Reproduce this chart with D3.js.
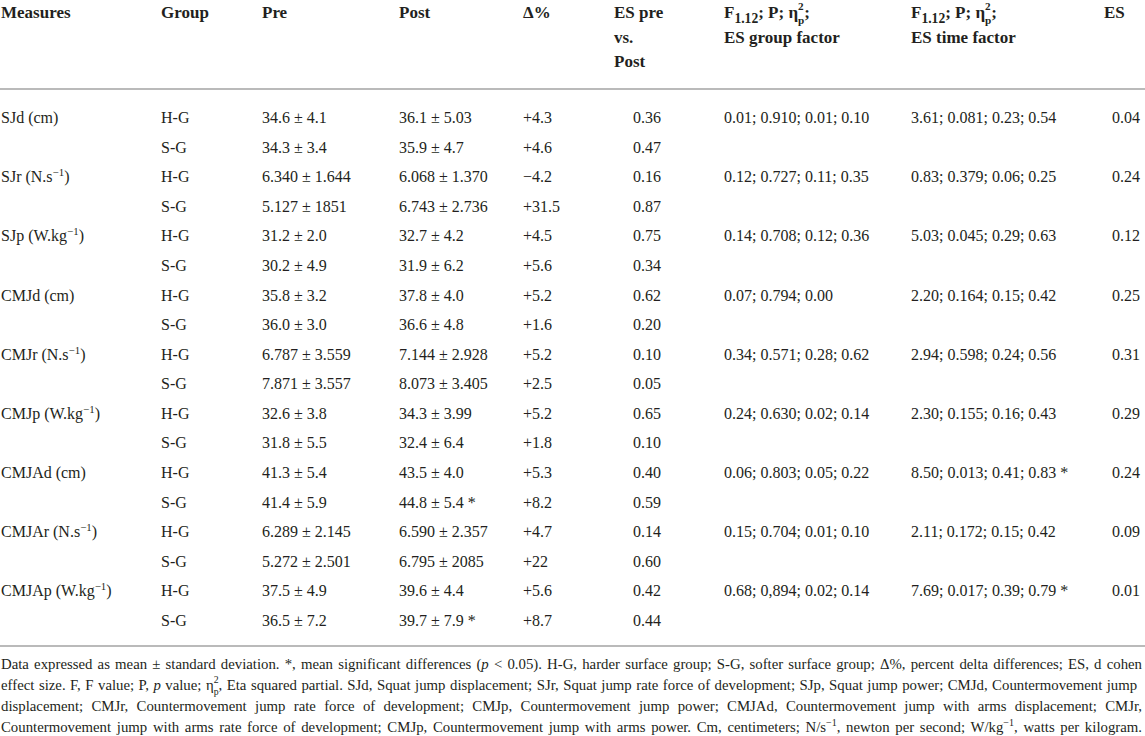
<!DOCTYPE html>
<meta charset="utf-8">
<script src="https://d3js.org/d3.v7.min.js"></script>
<body style="margin:0;background:#fff">
<div id="my_table"></div>
</body>

<style>
text { font-family: "Liberation Serif", "Times New Roman", serif; fill: #231f20; }
.head { font-weight: bold; font-size: 17px; }
.cell { font-size: 16px; }
.note { font-size: 14.8px; }
.rule { stroke: #a3a3a3; stroke-width: 1.5; }
</style>

<script>
// table values, read row by row (H-G then S-G for every measure)
var measureNames = ["SJd", "SJr", "SJp", "CMJd", "CMJr", "CMJp", "CMJAd", "CMJAr", "CMJAp"];
var measureUnits = ["cm", "N.s^{−1}", "W.kg^{−1}", "cm", "N.s^{−1}", "W.kg^{−1}", "cm", "N.s^{−1}", "W.kg^{−1}"];
var groups = ["H-G", "S-G"];

var preValues = [
  "34.6 ± 4.1", "34.3 ± 3.4", "6.340 ± 1.644", "5.127 ± 1851", "31.2 ± 2.0", "30.2 ± 4.9",
  "35.8 ± 3.2", "36.0 ± 3.0", "6.787 ± 3.559", "7.871 ± 3.557", "32.6 ± 3.8", "31.8 ± 5.5",
  "41.3 ± 5.4", "41.4 ± 5.9", "6.289 ± 2.145", "5.272 ± 2.501", "37.5 ± 4.9", "36.5 ± 7.2"];
var postValues = [
  "36.1 ± 5.03", "35.9 ± 4.7", "6.068 ± 1.370", "6.743 ± 2.736", "32.7 ± 4.2", "31.9 ± 6.2",
  "37.8 ± 4.0", "36.6 ± 4.8", "7.144 ± 2.928", "8.073 ± 3.405", "34.3 ± 3.99", "32.4 ± 6.4",
  "43.5 ± 4.0", "44.8 ± 5.4 *", "6.590 ± 2.357", "6.795 ± 2085", "39.6 ± 4.4", "39.7 ± 7.9 *"];
var deltaValues = ["+4.3", "+4.6", "−4.2", "+31.5", "+4.5", "+5.6", "+5.2", "+1.6", "+5.2",
  "+2.5", "+5.2", "+1.8", "+5.3", "+8.2", "+4.7", "+22", "+5.6", "+8.7"];
var esPrePost = ["0.36", "0.47", "0.16", "0.87", "0.75", "0.34", "0.62", "0.20", "0.10",
  "0.05", "0.65", "0.10", "0.40", "0.59", "0.14", "0.60", "0.42", "0.44"];

// one value per measure
var fGroup = ["0.01; 0.910; 0.01; 0.10", "0.12; 0.727; 0.11; 0.35", "0.14; 0.708; 0.12; 0.36",
  "0.07; 0.794; 0.00", "0.34; 0.571; 0.28; 0.62", "0.24; 0.630; 0.02; 0.14",
  "0.06; 0.803; 0.05; 0.22", "0.15; 0.704; 0.01; 0.10", "0.68; 0,894; 0.02; 0.14"];
var fTime = ["3.61; 0.081; 0.23; 0.54", "0.83; 0.379; 0.06; 0.25", "5.03; 0.045; 0.29; 0.63",
  "2.20; 0.164; 0.15; 0.42", "2.94; 0.598; 0.24; 0.56", "2.30; 0.155; 0.16; 0.43",
  "8.50; 0.013; 0.41; 0.83 *", "2.11; 0.172; 0.15; 0.42", "7.69; 0.017; 0.39; 0.79 *"];
var esInteraction = ["0.04", "0.24", "0.12", "0.25", "0.31", "0.29", "0.24", "0.09", "0.01"];

var headers = [
  ["Measures"], ["Group"], ["Pre"], ["Post"], ["Δ%"], ["ES pre", "vs.", "Post"],
  ["F_{1.12}; P; η@{2|p};", "ES group factor"], ["F_{1.12}; P; η@{2|p};", "ES time factor"], ["ES"]];

var notes = [
  "Data expressed as mean ± standard deviation. *, mean significant differences (~{p} < 0.05). H-G, harder surface group; S-G, softer surface group; Δ%, percent delta differences; ES, d cohen",
  "effect size. F, F value; P, ~{p} value; η@{2|p}, Eta squared partial. SJd, Squat jump displacement; SJr, Squat jump rate force of development; SJp, Squat jump power; CMJd, Countermovement jump",
  "displacement; CMJr, Countermovement jump rate force of development; CMJp, Countermovement jump power; CMJAd, Countermovement jump with arms displacement; CMJr,",
  "Countermovement jump with arms rate force of development; CMJp, Countermovement jump with arms power. Cm, centimeters; N/s^{−1}, newton per second; W/kg^{−1}, watts per kilogram."];

var W = 1145, H = 736;

var svg = d3.select("#my_table").append("svg")
  .attr("width", W).attr("height", H);

// column layout
var colKeys = ["measure", "group", "pre", "post", "delta", "es", "fg", "ft", "esi"];
var colX = d3.scaleOrdinal().domain(colKeys).range([1, 161, 262, 399, 523, 661, 724, 911, 1140]);
var headX = d3.scaleOrdinal().domain(colKeys).range([1, 161, 262, 399, 523, 614, 724, 911, 1104]);
var colAnchor = d3.scaleOrdinal().domain(colKeys)
  .range(["start", "start", "start", "start", "start", "end", "start", "start", "end"]);

// rows
var rows = d3.range(measureNames.length * 2).map(function(i) {
  var m = Math.floor(i / 2), first = i % 2 === 0;
  return {
    measure: first ? measureNames[m] + " (" + measureUnits[m] + ")" : "",
    group: groups[i % 2],
    pre: preValues[i], post: postValues[i], delta: deltaValues[i], es: esPrePost[i],
    fg: first ? fGroup[m] : "", ft: first ? fTime[m] : "", esi: first ? esInteraction[m] : ""
  };
});

var rowY = d3.scalePoint().domain(d3.range(rows.length)).range([123, 626]);
var headY = d3.scalePoint().domain([0, 1, 2]).range([18, 67]);

// small markup: ^{sup} _{sub} ~{italic} @{sup|sub} stacked
function addRich(text, str, size) {
  var cur = 0;
  function seg(t, shift, fs, ital, dx) {
    var ts = text.append("tspan").text(t)
      .attr("dy", shift - cur).style("font-size", fs + "px");
    if (ital) ts.style("font-style", "italic");
    if (dx) ts.attr("dx", dx);
    cur = shift;
    return ts;
  }
  str.split(/(\^\{[^}]*\}|_\{[^}]*\}|~\{[^}]*\}|@\{[^}]*\})/).filter(function(s) { return s.length; })
    .forEach(function(p) {
      var kind = p[0], body = p.slice(2, -1);
      if (p[1] !== "{" || "^_~@".indexOf(kind) < 0) { seg(p, 0, size); return; }
      if (kind === "^") seg(body, -0.38 * size, 0.68 * size);
      else if (kind === "_") seg(body, 0.3 * size, 0.8 * size);
      else if (kind === "~") seg(body, 0, size, true);
      else {
        var ab = body.split("|");
        var w = seg(ab[0], -0.47 * size, 0.66 * size).node().getComputedTextLength();
        seg(ab[1], 0.33 * size, 0.66 * size, false, -w);
      }
    });
  return text;
}

// header
var head = svg.append("g");
colKeys.forEach(function(k, ci) {
  headers[ci].forEach(function(line, li) {
    addRich(head.append("text").attr("class", "head")
      .attr("x", headX(k)).attr("y", headY(li)), line, 17);
  });
});

svg.append("line").attr("class", "rule").attr("x1", 0).attr("x2", W).attr("y1", 89).attr("y2", 89);

// body cells
var body = svg.append("g");
rows.forEach(function(r, i) {
  colKeys.forEach(function(k) {
    if (!r[k]) return;
    addRich(body.append("text").attr("class", "cell")
      .attr("x", colX(k)).attr("y", rowY(i))
      .attr("text-anchor", colAnchor(k)), r[k], 16);
  });
});

svg.append("line").attr("class", "rule").attr("x1", 0).attr("x2", W).attr("y1", 646).attr("y2", 646);

// footnote, justified to full width
var noteY = d3.scalePoint().domain(d3.range(notes.length)).range([669, 732]);
notes.forEach(function(n, i) {
  var t = addRich(svg.append("text").attr("class", "note")
    .attr("x", 1).attr("y", noteY(i)), n, 14.8);
  var natural = t.node().getComputedTextLength();
  var spaces = (n.match(/ /g) || []).length;
  t.style("word-spacing", ((1141 - natural) / spaces) + "px");
});
</script>
